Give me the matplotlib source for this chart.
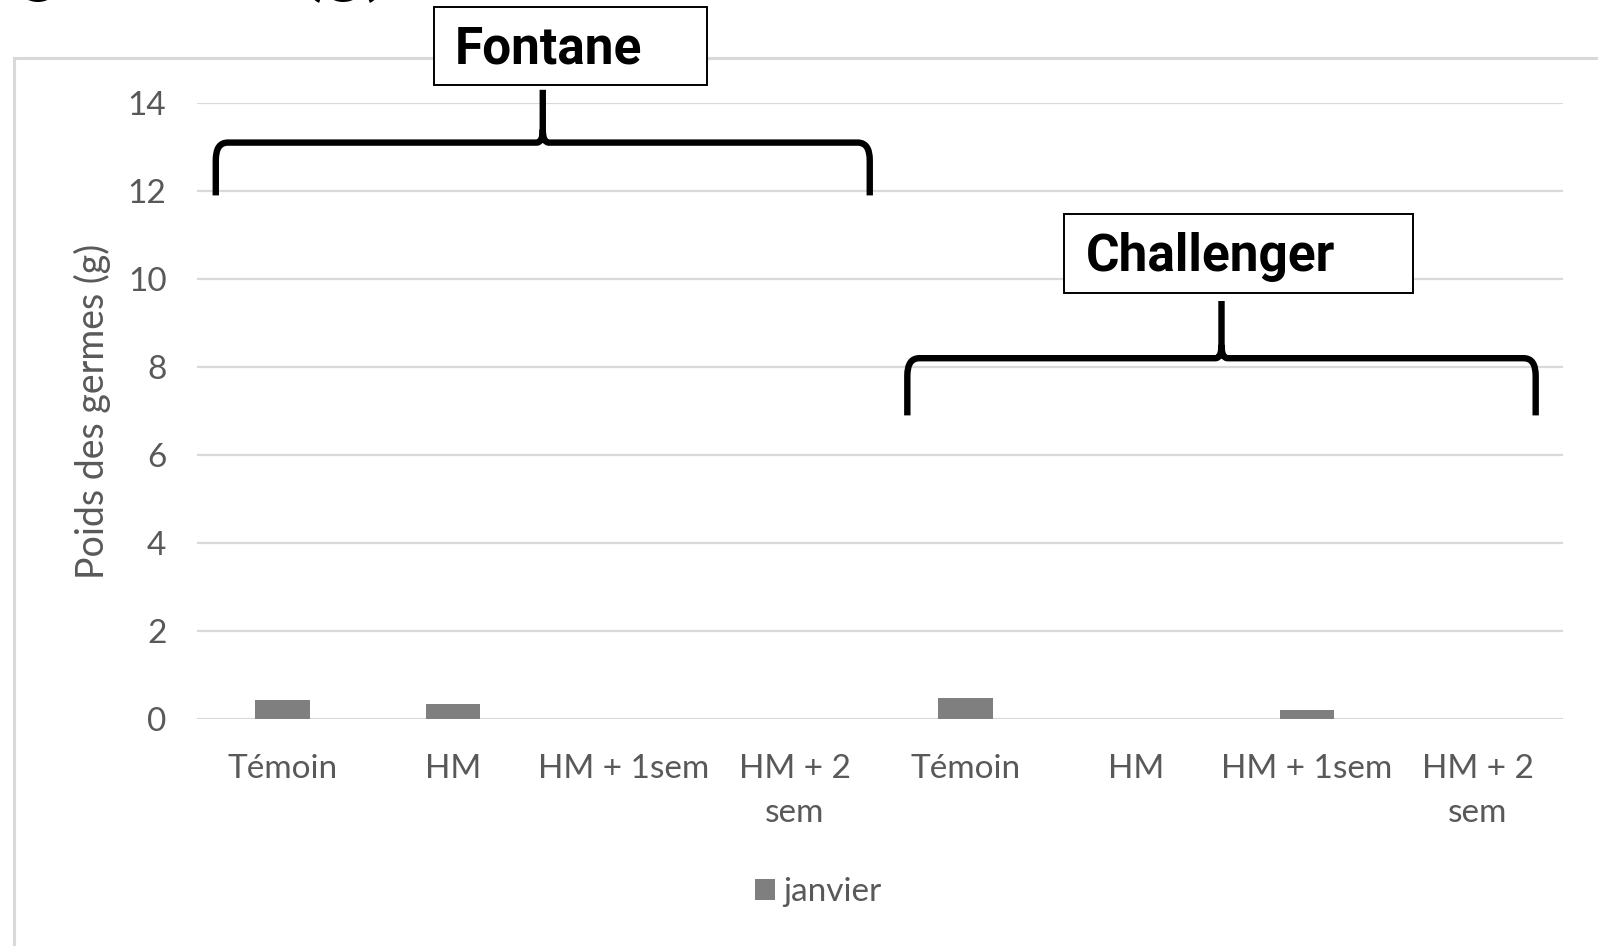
import matplotlib.pyplot as plt
from matplotlib.patches import Rectangle, PathPatch
from matplotlib.path import Path

# donnees du graphique
categories = ["Témoin", "HM", "HM + 1sem", "HM + 2\nsem",
              "Témoin", "HM", "HM + 1sem", "HM + 2\nsem"]
janvier = [0.43, 0.34, 0, 0, 0.47, 0, 0.21, 0]
yticks = [0, 2, 4, 6, 8, 10, 12, 14]
groupes = ["Fontane", "Challenger"]

W, H = 1598, 946
fig = plt.figure(figsize=(W / 100, H / 100), dpi=100)
fig.patch.set_facecolor("white")

def fx(px):
    return px / W

def fy(py):
    return 1 - py / H

gris_txt = "#595959"
gris_grille = "#d9d9d9"
police = ["Lato", "DejaVu Sans"]

# cadre exterieur du graphique (coupe a droite et en bas)
fig.add_artist(Rectangle((fx(14), -0.1), 1.2, fy(58) + 0.1, transform=fig.transFigure,
                         fill=False, edgecolor=gris_grille, lw=2.2))

# titre coupe en haut de l'image
fig.text(fx(393), fy(-14), "Poids des germes (g)", ha="right", va="baseline",
         fontsize=55, fontweight="bold", family=["Roboto", "DejaVu Sans"], color="black")

ax = fig.add_axes([fx(197), fy(719), fx(1563) - fx(197), fy(103) - fy(719)])
x = list(range(len(categories)))
ax.bar(x, janvier, width=0.32, color="#7f7f7f", zorder=3, label="janvier")
ax.set_xlim(-0.5, len(categories) - 0.5)
ax.set_ylim(0, 14)
ax.set_yticks(yticks)
ax.set_xticks(x)
ax.set_xticklabels(categories, linespacing=1.6)
for s in ax.spines.values():
    s.set_visible(False)
ax.grid(axis="y", color=gris_grille, lw=1.6, zorder=0)
ax.tick_params(length=0, labelsize=24, labelcolor=gris_txt)
ax.tick_params(axis="x", pad=25)
ax.tick_params(axis="y", pad=22)
for t in ax.get_xticklabels() + ax.get_yticklabels():
    t.set_family(police)
ax.set_ylabel("Poids des germes (g)", fontsize=27, color=gris_txt, family=police, labelpad=12)

leg = fig.legend(loc="center", bbox_to_anchor=(fx(818), fy(892)), frameon=False,
                 handlelength=0.6, handleheight=0.6, handletextpad=0.25,
                 prop={"family": police, "size": 24})
for t in leg.get_texts():
    t.set_color(gris_txt)


def accolade(ax, x0, x1, y_bout, y_h, y_haut):
    xm = (x0 + x1) / 2
    rx, ry = 0.07, 0.4
    cx, cy = 0.035, 0.3
    verts, codes = [], []
    for xb, sgn in ((x0, 1), (x1, -1)):
        verts += [(xb, y_bout), (xb, y_h - ry), (xb, y_h), (xb + sgn * rx, y_h),
                  (xm - sgn * cx, y_h), (xm, y_h), (xm, y_h + cy)]
        codes += [Path.MOVETO, Path.LINETO, Path.CURVE3, Path.CURVE3,
                  Path.LINETO, Path.CURVE3, Path.CURVE3]
    verts += [(xm, y_h + cy), (xm, y_haut)]
    codes += [Path.MOVETO, Path.LINETO]
    ax.add_patch(PathPatch(Path(verts, codes), fill=False, lw=4.6, edgecolor="black",
                           capstyle="butt", joinstyle="round", clip_on=False, zorder=5))


# accolades (positions en donnees) et boites des noms de variete (en pixels)
accolade(ax, -0.39, 3.44, 11.9, 13.1, 14.3)
accolade(ax, 3.66, 7.34, 6.9, 8.2, 9.5)

boites = [(434, 7, 707, 85, 455, 50), (1064, 214, 1413, 293, 1086, 257)]
for nom, (bx0, by0, bx1, by1, tx, ty) in zip(groupes, boites):
    fig.add_artist(Rectangle((fx(bx0), fy(by1)), fx(bx1) - fx(bx0), fy(by0) - fy(by1),
                             transform=fig.transFigure, facecolor="white",
                             edgecolor="black", lw=1.4, zorder=6))
    fig.text(fx(tx), fy(ty), nom, ha="left", va="center", fontsize=37,
             fontweight="bold", family=["Roboto", "DejaVu Sans"], color="black", zorder=7)

fig.savefig("out.png", dpi=100)
